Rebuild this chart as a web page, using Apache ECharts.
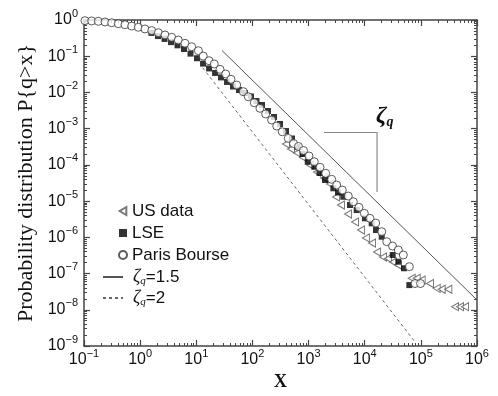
<!DOCTYPE html>
<html>
<head>
<meta charset="utf-8">
<script src="https://cdn.jsdelivr.net/npm/echarts@6/dist/echarts.min.js"></script>
<style>
  html, body { margin: 0; padding: 0; background: #fff; }
  #chart { width: 498px; height: 396px; }
</style>
</head>
<body>
<div id="chart"></div>
<script>
// values
var parisX = [0.104, 0.137, 0.180, 0.237, 0.311, 0.408, 0.537, 0.707, 0.927, 1.22, 1.61, 2.11, 2.77, 3.65, 4.78, 6.29, 8.28, 10.9,
  13.3, 16.9, 20.9, 26.5, 33.4, 41.5, 52.5, 68.8, 84.5, 108, 136, 172, 220, 271, 340, 435, 540, 662, 813, 1018, 1266, 1600,
  2020, 2580, 3170, 3990, 5100, 6270, 7910, 9840, 12400, 15700, 20100, 24700, 31300, 39700, 48700, 62300, 78700, 98600]
var parisY = [0.957, 0.94, 0.92, 0.88, 0.84, 0.79, 0.74, 0.68, 0.63, 0.565, 0.51, 0.446, 0.385, 0.333, 0.28, 0.227, 0.183, 0.142,
  0.101, 0.0752, 0.061, 0.0435, 0.0323, 0.0231, 0.016, 0.0105, 0.0076, 0.0052, 0.00365, 0.00254, 0.00173, 0.00118, 0.00082, 0.00054, 0.000389, 0.000322, 0.000249, 0.000176, 0.000122, 8.57e-5,
  5.86e-5, 4.0e-5, 2.78e-5, 2.02e-5, 1.38e-5, 9.6e-6, 6.75e-6, 4.6e-6, 3.35e-6, 2.48e-6, 1.43e-6, 7.6e-7, 5.75e-7, 4.47e-7, 3.25e-7, 1.55e-7, 5.3e-8, 5.3e-8]

var lseX = [1.59, 2.08, 2.72, 3.55, 4.63, 6.04, 7.89, 10.3, 13.2, 16.9, 21.6, 27.6, 35.3, 45.1, 57.7, 73.8, 94.3, 118, 148,
  189, 242, 310, 396, 507, 635, 780, 966, 1266, 1567, 1963, 2760, 3345, 4160, 5470, 7200, 10100, 13300, 15900, 20100,
  31500, 39700, 50100, 62300]
var lseY = [0.44, 0.36, 0.30, 0.245, 0.20, 0.158, 0.118, 0.088, 0.0625, 0.046, 0.0345, 0.026, 0.0195, 0.0146, 0.01168, 0.00965, 0.00773, 0.0058, 0.0045,
  0.00307, 0.0021, 0.00135, 0.00086, 0.000535, 0.000312, 0.0002, 0.000122, 8.9e-5, 5.97e-5, 3.83e-5, 2.26e-5, 1.73e-5, 1.32e-5, 7.8e-6, 5.67e-6, 3.35e-6, 2.44e-6, 1.59e-6, 1.04e-6,
  3.25e-7, 2.12e-7, 1.4e-7, 4.8e-8]

var usX = [396, 486, 622, 796, 1061, 1413, 1884, 2410, 3080, 3780, 5040, 6720, 8590, 10500, 13500, 16600, 21200, 26000, 31900, 39200,
  68700, 84400, 103500, 145600, 191500, 235300, 308600, 405800, 498600, 612000]
var usY = [3.77e-4, 2.74e-4, 2.13e-4, 1.6e-4, 9.9e-5, 6.35e-5, 4.34e-5, 2.97e-5, 1.3e-5, 7.8e-6, 4.4e-6, 2.65e-6, 1.59e-6, 9.6e-7, 6.97e-7, 3.93e-7, 2.86e-7, 2.6e-7, 2.08e-7, 1.72e-7,
  7.4e-8, 7.4e-8, 6.6e-8, 5.3e-8, 3.9e-8, 3.67e-8, 3.67e-8, 1.22e-8, 1.22e-8, 1.22e-8]

// power law guides (end points)
var zeta15X = [28.7, 1e6]
var zeta15Y = [0.144, 1.86e-8]
var zeta2X = [13, 78700]
var zeta2Y = [0.048, 1.29e-9]

// slope marker
var slopeX = [1884, 16600, 16600]
var slopeY = [7.83e-4, 7.83e-4, 1.78e-5]

var xMin = 0.1, xMax = 1e6
var yMin = 1e-9, yMax = 1

function pairs(xs, ys) {
  return xs.map(function (x, i) { return [x, ys[i]] })
}

var sans = 'Liberation Sans, Arial, sans-serif'
var serif = 'Liberation Serif, Times New Roman, serif'
var axisColor = '#444'

// minor tick positions (log10 space) for 2..9 of each decade
function minorTicks(lo, hi) {
  var out = []
  for (var d = lo; d < hi; d++) {
    for (var k = 2; k <= 9; k++) out.push(d + Math.log10(k))
  }
  return out
}

function powLabel(v) {
  var e = Math.round(Math.log10(v))
  var s = e < 0 ? '\u2212' + (-e) : '' + e
  return '{b|10}{e|' + s + '}'
}

var labelRich = {
  b: { fontSize: 16, fontFamily: sans, color: '#111' },
  e: { fontSize: 11, fontFamily: sans, color: '#111', padding: [0, 0, 13, 0] }
}

function majorAxis(pos, show, min, max, split) {
  return {
    type: 'log', logBase: 10, position: pos, min: min, max: max, splitNumber: split,
    axisLine: { show: true, onZero: false, lineStyle: { color: axisColor, width: 1.5 } },
    axisTick: { show: true, inside: true, length: 6, lineStyle: { color: axisColor, width: 1.2 } },
    axisLabel: { show: show, formatter: powLabel, rich: labelRich, margin: pos === 'bottom' ? 2 : 6 },
    splitLine: { show: false }
  }
}

function minorAxis(pos, lo, hi) {
  return {
    type: 'value', position: pos, min: lo, max: hi,
    axisLine: { show: false, onZero: false },
    axisTick: { show: true, inside: true, length: 3, customValues: minorTicks(lo, hi), lineStyle: { color: axisColor, width: 1 } },
    axisLabel: { show: false },
    splitLine: { show: false }
  }
}

var xMain = majorAxis('bottom', true, xMin, xMax, 7)
xMain.name = 'X'
xMain.nameLocation = 'middle'
xMain.nameGap = 24
xMain.nameTextStyle = { fontFamily: serif, fontSize: 18, fontWeight: 'bold', color: '#111' }

var yMain = majorAxis('left', true, yMin, yMax, 9)
yMain.name = 'Probability distribution P{q>x}'
yMain.nameLocation = 'middle'
yMain.nameGap = 47
yMain.nameTextStyle = { fontFamily: serif, fontSize: 22, color: '#111' }

var zetaRich = {
  z: { fontFamily: serif, fontStyle: 'italic', fontSize: 18, color: '#111', padding: [0, 0, 0, 5] },
  q: { fontFamily: serif, fontStyle: 'italic', fontSize: 11, color: '#111', padding: [9, 0, 0, 0] },
  n: { fontFamily: sans, fontSize: 17, color: '#111' }
}

var chart = echarts.init(document.getElementById('chart'), null, { renderer: 'canvas' })
chart.setOption({
  animation: false,
  backgroundColor: '#fff',
  grid: { left: 84, right: 21, top: 20, bottom: 50 },
  xAxis: [
    xMain,
    majorAxis('top', false, xMin, xMax, 7),
    minorAxis('bottom', -1, 6),
    minorAxis('top', -1, 6)
  ],
  yAxis: [
    yMain,
    majorAxis('right', false, yMin, yMax, 9),
    minorAxis('left', -9, 0),
    minorAxis('right', -9, 0)
  ],
  legend: [{
    orient: 'vertical', left: 113, top: 197, itemWidth: 8, itemHeight: 8, itemGap: 4,
    textStyle: { fontFamily: sans, fontSize: 17, color: '#111', lineHeight: 18 },
    data: ['US data', 'LSE', 'Paris Bourse']
  }, {
    orient: 'vertical', left: 97, top: 263, itemWidth: 20, itemHeight: 8, itemGap: 2,
    itemStyle: { opacity: 0 },
    textStyle: { fontFamily: sans, fontSize: 17, color: '#111', rich: zetaRich },
    formatter: function (name) {
      return '{z|\u03b6}{q|q}{n|' + name.replace('zeta', '') + '}'
    },
    data: ['zeta=1.5', 'zeta=2']
  }],
  graphic: [{
    type: 'text', left: 376, top: 104,
    style: {
      text: '{z|\u03b6}{q|q}',
      rich: {
        z: { fontFamily: serif, fontStyle: 'italic', fontWeight: 'bold', fontSize: 24, fill: '#111' },
        q: { fontFamily: serif, fontStyle: 'italic', fontWeight: 'bold', fontSize: 14, fill: '#111', padding: [12, 0, 0, 0] }
      }
    }
  }],
  series: [{
    name: 'zeta=1.5', type: 'line', symbol: 'none',
    itemStyle: { color: '#555' },
    lineStyle: { color: '#555', width: 1 },
    data: pairs(zeta15X, zeta15Y), z: 1
  }, {
    name: 'zeta=2', type: 'line', symbol: 'none',
    itemStyle: { color: '#666' },
    lineStyle: { color: '#666', width: 1, type: [3, 3] },
    data: pairs(zeta2X, zeta2Y), z: 1
  }, {
    name: 'slope', type: 'line', symbol: 'none',
    lineStyle: { color: '#888', width: 1.2 },
    data: pairs(slopeX, slopeY), z: 1
  }, {
    name: 'US data', type: 'scatter',
    symbol: 'path://M10,0 L0,6 L10,12 Z', symbolSize: [7, 8],
    itemStyle: { color: '#fff', borderColor: '#555', borderWidth: 1 },
    data: pairs(usX, usY), z: 2
  }, {
    name: 'LSE', type: 'scatter', symbol: 'rect', symbolSize: 6,
    itemStyle: { color: '#000' },
    data: pairs(lseX, lseY), z: 3
  }, {
    name: 'Paris Bourse', type: 'scatter', symbol: 'circle', symbolSize: 8,
    itemStyle: { color: '#fff', borderColor: '#333', borderWidth: 1 },
    data: pairs(parisX, parisY), z: 4
  }]
})
</script>
</body>
</html>
